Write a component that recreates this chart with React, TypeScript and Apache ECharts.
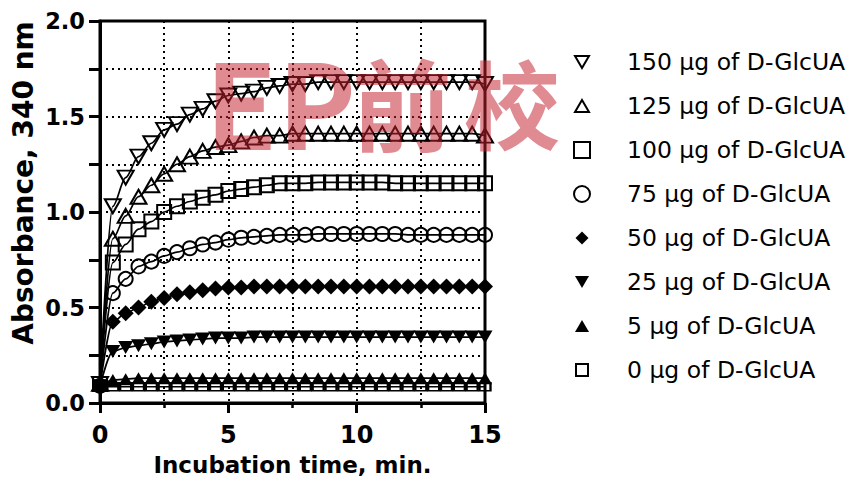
import React, { useEffect, useRef } from 'react';
import * as echarts from 'echarts';

const TIME = [0, 0.5, 1, 1.5, 2, 2.5, 3, 3.5, 4, 4.5, 5, 5.5, 6, 6.5, 7, 7.5, 8, 8.5, 9, 9.5, 10, 10.5, 11, 11.5, 12, 12.5, 13, 13.5, 14, 14.5, 15];

const S150 = [0.10, 1.03, 1.18, 1.29, 1.36, 1.43, 1.46, 1.51, 1.54, 1.58, 1.61, 1.62, 1.63, 1.65, 1.66, 1.67, 1.67, 1.68, 1.68, 1.68, 1.68, 1.68, 1.68, 1.68, 1.68, 1.68, 1.68, 1.68, 1.68, 1.68, 1.67];
const S125 = [0.10, 0.86, 0.98, 1.08, 1.14, 1.20, 1.25, 1.29, 1.32, 1.34, 1.35, 1.37, 1.39, 1.40, 1.40, 1.41, 1.41, 1.41, 1.41, 1.41, 1.41, 1.41, 1.41, 1.41, 1.41, 1.41, 1.41, 1.41, 1.41, 1.41, 1.40];
const S100 = [0.10, 0.735, 0.83, 0.91, 0.95, 1.00, 1.03, 1.055, 1.075, 1.09, 1.11, 1.12, 1.13, 1.14, 1.15, 1.15, 1.15, 1.155, 1.155, 1.155, 1.155, 1.155, 1.155, 1.15, 1.15, 1.15, 1.15, 1.15, 1.15, 1.15, 1.15];
const S75 = [0.09, 0.575, 0.65, 0.715, 0.74, 0.77, 0.79, 0.81, 0.83, 0.84, 0.855, 0.865, 0.87, 0.875, 0.88, 0.88, 0.88, 0.885, 0.885, 0.885, 0.885, 0.885, 0.885, 0.885, 0.88, 0.88, 0.88, 0.88, 0.88, 0.88, 0.88];
const S50 = [0.09, 0.425, 0.47, 0.50, 0.53, 0.55, 0.57, 0.58, 0.59, 0.60, 0.605, 0.605, 0.61, 0.61, 0.61, 0.61, 0.61, 0.61, 0.61, 0.61, 0.61, 0.61, 0.61, 0.61, 0.61, 0.61, 0.61, 0.61, 0.61, 0.61, 0.61];
const S25 = [0.09, 0.27, 0.29, 0.30, 0.31, 0.32, 0.325, 0.33, 0.335, 0.34, 0.34, 0.34, 0.345, 0.345, 0.345, 0.345, 0.345, 0.345, 0.345, 0.345, 0.345, 0.345, 0.345, 0.345, 0.345, 0.345, 0.345, 0.345, 0.345, 0.345, 0.345];
const S5 = [0.09, 0.12, 0.125, 0.13, 0.13, 0.13, 0.13, 0.13, 0.13, 0.13, 0.13, 0.13, 0.13, 0.13, 0.13, 0.13, 0.13, 0.13, 0.13, 0.13, 0.13, 0.13, 0.13, 0.13, 0.13, 0.13, 0.13, 0.13, 0.13, 0.13, 0.13];
const S0 = [0.085, 0.085, 0.085, 0.085, 0.085, 0.085, 0.085, 0.085, 0.085, 0.085, 0.085, 0.085, 0.085, 0.085, 0.085, 0.085, 0.085, 0.085, 0.085, 0.085, 0.085, 0.085, 0.085, 0.085, 0.085, 0.085, 0.085, 0.085, 0.085, 0.085, 0.085];

const NAMES = [
  '150 µg of D-GlcUA',
  '125 µg of D-GlcUA',
  '100 µg of D-GlcUA',
  '75 µg of D-GlcUA',
  '50 µg of D-GlcUA',
  '25 µg of D-GlcUA',
  '5 µg of D-GlcUA',
  '0 µg of D-GlcUA',
];

const X_TITLE = 'Incubation time, min.';
const Y_TITLE = 'Absorbance, 340 nm';

const FONT = '"DejaVu Sans", "Liberation Sans", sans-serif';

const OPEN = { color: 'rgba(255,255,255,0)', borderColor: '#000', borderWidth: 2 };
const FILLED = { color: '#000', borderColor: '#000', borderWidth: 0 };

const ICON_DOWN = 'path://M0,0M16,16M1,2L15,2L8,14Z';
const ICON_UP = 'path://M0,0M16,16M8,2L15,14L1,14Z';
const ICON_SQ = 'path://M0,0L16,0L16,16L0,16Z';
const ICON_CIRCLE = 'path://M8,0A8,8,0,1,1,8,16A8,8,0,1,1,8,0Z';
const ICON_DIAMOND = 'path://M0,0M16,16M8,1.5L14.5,8L8,14.5L1.5,8Z';
const ICON_SMALLSQ = 'path://M0,0M16,16M2,2L14,2L14,14L2,14Z';

const WM_COLOR = 'rgba(195,30,45,0.52)';

function makeSeries(name: string, values: number[], symbol: string, size: number[], filled: boolean, rotate: number, z: number) {
  return {
    type: 'line',
    name,
    data: TIME.map((t, i) => [t, values[i]]),
    symbol,
    symbolSize: size,
    symbolRotate: rotate,
    smooth: 0.3,
    smoothMonotone: 'x',
    clip: false,
    z,
    lineStyle: { color: '#000', width: 1.7 },
    itemStyle: filled ? FILLED : OPEN,
    emphasis: { disabled: true },
  };
}

export default function App() {
  const ref = useRef<HTMLDivElement>(null);
  useEffect(() => {
    if (!ref.current) return;
    const chart = echarts.init(ref.current, undefined, { renderer: 'svg' });
    const gridLine = { color: '#000', width: 2, type: [2, 4] as number[] };
    chart.setOption({
      animation: false,
      backgroundColor: '#fff',
      grid: {
        left: 100, right: 373, top: 21, bottom: 81,
        show: true, borderColor: '#000', borderWidth: 3, backgroundColor: 'rgba(0,0,0,0)',
        containLabel: false, outerBoundsMode: 'none',
      },
      xAxis: {
        type: 'value', min: 0, max: 15, interval: 5,
        axisLine: { show: true, onZero: false, lineStyle: { color: '#000', width: 3 } },
        axisTick: { show: true, length: 10, lineStyle: { color: '#000', width: 3 } },
        minorTick: { show: true, splitNumber: 2, length: 5, lineStyle: { color: '#000', width: 2.5 } },
        splitLine: { show: true, lineStyle: gridLine },
        minorSplitLine: { show: true, lineStyle: gridLine },
        axisLabel: { color: '#000', fontFamily: FONT, fontWeight: 'bold', fontSize: 24, margin: 20 },
        name: X_TITLE, nameLocation: 'middle', nameGap: 50,
        nameTextStyle: { color: '#000', fontFamily: FONT, fontWeight: 'bold', fontSize: 23 },
      },
      yAxis: {
        type: 'value', min: 0, max: 2, interval: 0.5,
        axisLine: { show: true, onZero: false, lineStyle: { color: '#000', width: 3 } },
        axisTick: { show: true, length: 11, lineStyle: { color: '#000', width: 3 } },
        minorTick: { show: true, splitNumber: 2, length: 11, lineStyle: { color: '#000', width: 3 } },
        splitLine: { show: true, lineStyle: gridLine },
        minorSplitLine: { show: true, lineStyle: gridLine },
        axisLabel: {
          color: '#000', fontFamily: FONT, fontWeight: 'bold', fontSize: 22.5, margin: 15,
          formatter: (v: number) => v.toFixed(1),
        },
      },
      legend: {
        orient: 'vertical', left: 573, top: 50, padding: 0,
        itemWidth: 80, itemHeight: 16, itemGap: 20,
        selectedMode: false,
        textStyle: { color: '#000', fontFamily: FONT, fontSize: 23.5, lineHeight: 24 },
        data: [
          { name: NAMES[0], icon: ICON_DOWN, itemStyle: OPEN },
          { name: NAMES[1], icon: ICON_UP, itemStyle: OPEN },
          { name: NAMES[2], icon: ICON_SQ, itemStyle: OPEN },
          { name: NAMES[3], icon: ICON_CIRCLE, itemStyle: OPEN },
          { name: NAMES[4], icon: ICON_DIAMOND, itemStyle: FILLED },
          { name: NAMES[5], icon: ICON_DOWN, itemStyle: FILLED },
          { name: NAMES[6], icon: ICON_UP, itemStyle: FILLED },
          { name: NAMES[7], icon: ICON_SMALLSQ, itemStyle: OPEN },
        ],
      },
      graphic: [
        {
          type: 'text', x: 23, y: 183, rotation: Math.PI / 2, z: 50,
          style: { text: Y_TITLE, fill: '#000', font: `bold 28px ${FONT}`, align: 'center', verticalAlign: 'middle', textAlign: 'center', textVerticalAlign: 'middle' },
        },
        {
          type: 'text', x: 205, y: 98, z: 100, silent: true,
          style: { text: 'EP', fill: WM_COLOR, font: 'bold 118px "Noto Sans CJK SC", sans-serif', align: 'left', verticalAlign: 'middle', textAlign: 'left', textVerticalAlign: 'middle' },
        },
        {
          type: 'text', x: 352, y: 100, z: 100, silent: true,
          style: { text: '前', fill: WM_COLOR, font: 'bold 100px "Noto Sans CJK SC", sans-serif', align: 'left', verticalAlign: 'middle', textAlign: 'left', textVerticalAlign: 'middle' },
        },
        {
          type: 'text', x: 464, y: 100, z: 100, silent: true,
          style: { text: '校', fill: WM_COLOR, font: 'bold 96px "Noto Sans CJK SC", sans-serif', align: 'left', verticalAlign: 'middle', textAlign: 'left', textVerticalAlign: 'middle' },
        },
      ],
      series: [
        makeSeries(NAMES[7], S0, 'rect', [11, 8], false, 0, 2),
        makeSeries(NAMES[6], S5, 'triangle', [14, 12], true, 0, 3),
        makeSeries(NAMES[5], S25, 'triangle', [15, 13], true, 180, 4),
        makeSeries(NAMES[4], S50, 'diamond', [16, 16], true, 0, 5),
        makeSeries(NAMES[3], S75, 'circle', [14, 14], false, 0, 6),
        makeSeries(NAMES[2], S100, 'rect', [14, 14], false, 0, 7),
        makeSeries(NAMES[1], S125, 'triangle', [16, 14], false, 0, 8),
        makeSeries(NAMES[0], S150, 'triangle', [16, 14], false, 180, 9),
      ],
    });
    return () => chart.dispose();
  }, []);
  return <div ref={ref} style={{ position: 'fixed', left: 0, top: 0, width: 858, height: 484 }} />;
}
